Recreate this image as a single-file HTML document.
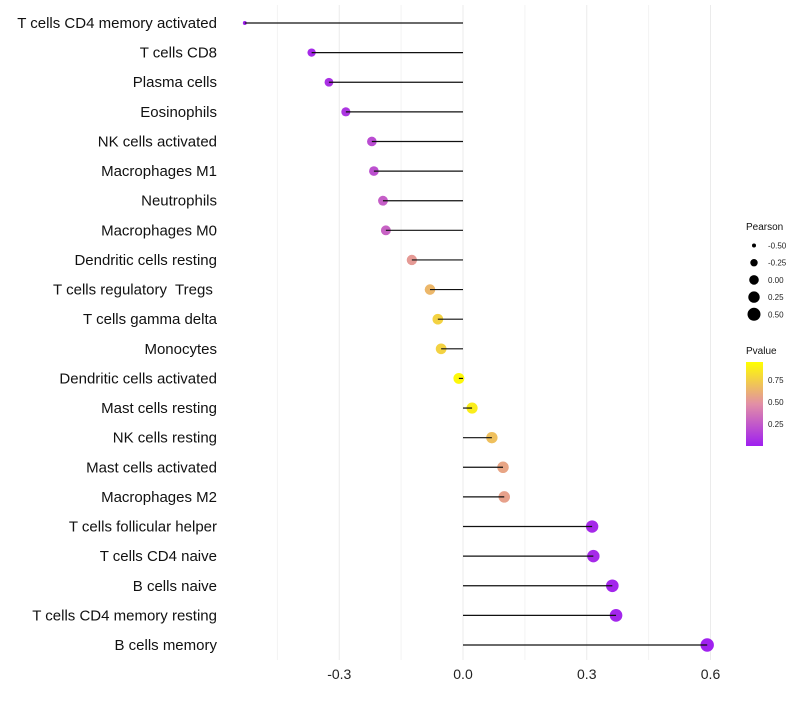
<!DOCTYPE html>
<html><head><meta charset="utf-8"><style>
body{margin:0;background:#fff;font-family:"Liberation Sans",sans-serif}
text{white-space:pre}
</style></head><body>
<svg id="chart" width="800" height="700" xmlns="http://www.w3.org/2000/svg"></svg>
<script>
const categories=["T cells CD4 memory activated","T cells CD8","Plasma cells","Eosinophils","NK cells activated","Macrophages M1","Neutrophils","Macrophages M0","Dendritic cells resting","T cells regulatory  Tregs ","T cells gamma delta","Monocytes","Dendritic cells activated","Mast cells resting","NK cells resting","Mast cells activated","Macrophages M2","T cells follicular helper","T cells CD4 naive","B cells naive","T cells CD4 memory resting","B cells memory"];
const pearson=[-0.529,-0.367,-0.325,-0.284,-0.221,-0.216,-0.194,-0.187,-0.124,-0.080,-0.061,-0.053,-0.010,0.022,0.070,0.097,0.100,0.313,0.316,0.362,0.371,0.592];
const pvalue=[0.01,0.05,0.08,0.10,0.20,0.22,0.28,0.30,0.55,0.68,0.80,0.80,0.97,0.92,0.72,0.60,0.58,0.05,0.05,0.03,0.03,0.01];
const xTicks=[-0.3,0,0.3,0.6];
const xTickLabels=["-0.3","0.0","0.3","0.6"];
const xMinor=[-0.45,-0.15,0.15,0.45];
const sizeLegend=[-0.5,-0.25,0,0.25,0.5];
const sizeLegendLabels=["-0.50","-0.25","0.00","0.25","0.50"];
const pLegend=[0.25,0.5,0.75];
const pLegendLabels=["0.25","0.50","0.75"];

const NS="http://www.w3.org/2000/svg";
const svg=document.getElementById('chart');
const x=v=>463+v*412.5;
const y=i=>23+i*(622/21);
const r=v=>1.5+5.2*Math.pow(Math.max(v+0.53,0)/1.12,0.35);
function lerp(a,b,t){return a.map((c,k)=>Math.round(c+(b[k]-c)*t));}
function col(p){const A=[159,31,240],B=[226,143,166],C=[255,255,0];
 const c=p<0.5?lerp(A,B,p/0.5):lerp(B,C,(p-0.5)/0.5);return `rgb(${c.join(',')})`;}
function mk(t,a,parent){const e=document.createElementNS(NS,t);for(const k in a)e.setAttribute(k,a[k]);(parent||svg).appendChild(e);return e;}

xMinor.forEach(v=>{const l=mk('line',{x1:x(v),x2:x(v),y1:5,y2:660,stroke:'#f3f3f3','stroke-width':1});

});
xTicks.forEach((v,i)=>{const l=mk('line',{x1:x(v),x2:x(v),y1:5,y2:660,stroke:'#ebebeb','stroke-width':1});


const t=mk('text',{x:x(v),y:679,'text-anchor':'middle','font-size':14,fill:'#222'});t.textContent=xTickLabels[i];

});

categories.forEach((c,i)=>{
 const t=mk('text',{x:217,y:y(i)+5,'text-anchor':'end','font-size':15,fill:'#111'});t.textContent=c;
 
 
 const p=mk('circle',{cx:x(pearson[i]),cy:y(i),r:r(pearson[i]),fill:col(pvalue[i])});
 
 
 const l=mk('line',{x1:x(0),x2:x(pearson[i]),y1:y(i),y2:y(i),stroke:'#111','stroke-width':1.2});
 
 
});

let t=mk('text',{x:746,y:230,'font-size':10,fill:'#111'});t.textContent='Pearson';


sizeLegend.forEach((v,i)=>{const cy=245.5+i*17.2;
 const c=mk('circle',{cx:754,cy:cy,r:[2,3.7,4.8,5.7,6.5][i],fill:'#000'});
 
 
 const tt=mk('text',{x:768,y:cy+3,'font-size':8,fill:'#222'});tt.textContent=sizeLegendLabels[i];
 
 });
t=mk('text',{x:746,y:354,'font-size':10,fill:'#111'});t.textContent='Pvalue';


const defs=mk('defs',{});const g=mk('linearGradient',{id:'pg',x1:0,y1:1,x2:0,y2:0},defs);
[[0,0],[0.5,0.5],[1,1]].forEach(s=>mk('stop',{offset:s[0],'stop-color':col(s[1])},g));
const cb=mk('rect',{x:746,y:362,width:17,height:84,fill:'url(#pg)'});


const py=p=>446-p*88;
pLegend.forEach((p,i)=>{const tt=mk('text',{x:768,y:py(p)+3,'font-size':8,fill:'#222'});tt.textContent=pLegendLabels[i];
 
 });
</script>
</body></html>
